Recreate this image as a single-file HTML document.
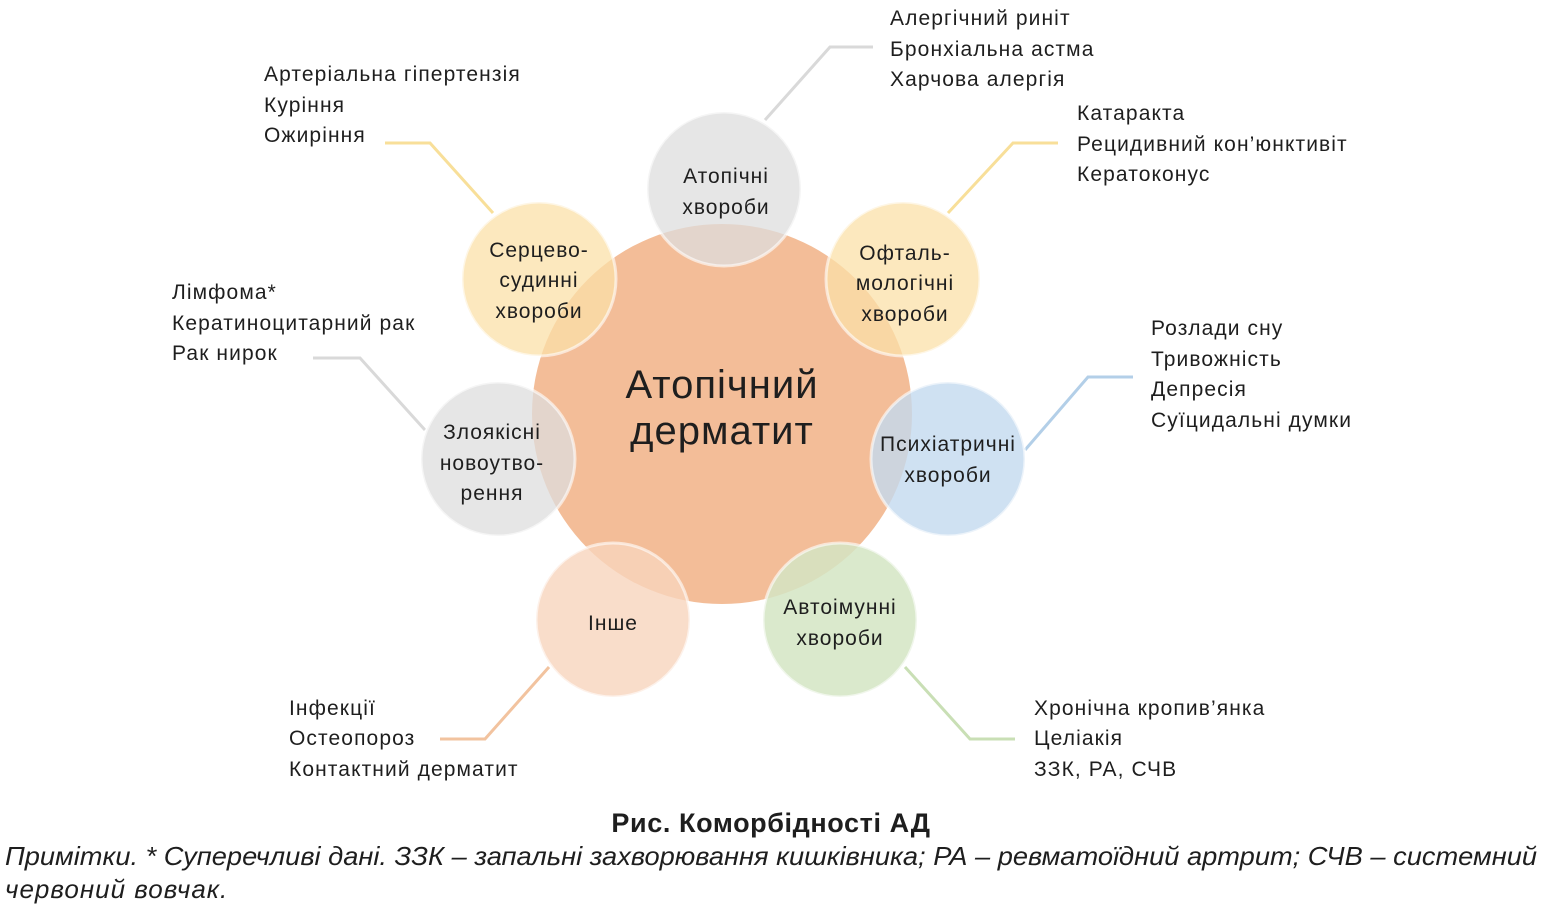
<!DOCTYPE html>
<html><head><meta charset="utf-8"><style>
html,body{margin:0;padding:0;background:#fff;width:1543px;height:910px;overflow:hidden}
svg{display:block}
text{font-family:"Liberation Sans","DejaVu Sans",sans-serif;fill:#1e1e1e}
.l{font-size:21px;letter-spacing:1.1px}
.c{font-size:21px;letter-spacing:1px;text-anchor:middle}
</style></head><body>
<svg width="1543" height="910" viewBox="0 0 1543 910">
<g fill="none" stroke-width="3">
<polyline points="765,120 830,47 873,47" stroke="#d9d9d9"/>
<polyline points="493,213 430,143 385,143" stroke="#f8df99"/>
<polyline points="948,213 1013,143 1058,143" stroke="#f8df99"/>
<polyline points="425,430 360,358 313,358" stroke="#d9d9d9"/>
<polyline points="1025,450 1088,377 1133,377" stroke="#b3cfe8"/>
<polyline points="549,667 485,739 440,739" stroke="#f2c39f"/>
<polyline points="905,667 970,739 1015,739" stroke="#c9dfb5"/>
</g>
<circle cx="722" cy="414" r="190" fill="#f3bd98"/>
<g stroke="#fff" stroke-opacity="0.6" stroke-width="3">
<ellipse cx="724" cy="189" rx="77" ry="77" fill="#dedede" fill-opacity="0.75"/>
<ellipse cx="539" cy="279" rx="77" ry="77" fill="#fbe0a8" fill-opacity="0.75"/>
<ellipse cx="903" cy="279" rx="77" ry="77" fill="#fbe0a8" fill-opacity="0.75"/>
<ellipse cx="498" cy="459" rx="77" ry="77" fill="#dedede" fill-opacity="0.75"/>
<ellipse cx="948" cy="459" rx="77" ry="77" fill="#c3d9ef" fill-opacity="0.8"/>
<ellipse cx="613" cy="620" rx="77" ry="77" fill="#f8d4bd" fill-opacity="0.8"/>
<ellipse cx="840" cy="620" rx="77" ry="77" fill="#d3e5c3" fill-opacity="0.85"/>
</g>
<text x="722" y="398" style="font-size:40px;letter-spacing:1px;text-anchor:middle">Атопічний</text>
<text x="722" y="444" style="font-size:40px;letter-spacing:1px;text-anchor:middle">дерматит</text>
<text class="c" x="726" y="183">Атопічні</text><text class="c" x="726" y="214">хвороби</text>
<text class="c" x="539" y="257">Серцево-</text><text class="c" x="539" y="287">судинні</text><text class="c" x="539" y="318">хвороби</text>
<text class="c" x="905" y="260">Офталь-</text><text class="c" x="905" y="290">мологічні</text><text class="c" x="905" y="321">хвороби</text>
<text class="c" x="492" y="439">Злоякісні</text><text class="c" x="492" y="470">новоутво-</text><text class="c" x="492" y="500">рення</text>
<text class="c" x="948" y="451">Психіатричні</text><text class="c" x="948" y="482">хвороби</text>
<text class="c" x="613" y="630">Інше</text>
<text class="c" x="840" y="614">Автоімунні</text><text class="c" x="840" y="645">хвороби</text>
<text class="l" x="890" y="25">Алергічний риніт</text><text class="l" x="890" y="56">Бронхіальна астма</text><text class="l" x="890" y="86">Харчова алергія</text>
<text class="l" x="264" y="81">Артеріальна гіпертензія</text><text class="l" x="264" y="112">Куріння</text><text class="l" x="264" y="142">Ожиріння</text>
<text class="l" x="1077" y="120">Катаракта</text><text class="l" x="1077" y="151">Рецидивний кон’юнктивіт</text><text class="l" x="1077" y="181">Кератоконус</text>
<text class="l" x="172" y="299">Лімфома*</text><text class="l" x="172" y="330">Кератиноцитарний рак</text><text class="l" x="172" y="360">Рак нирок</text>
<text class="l" x="1151" y="335">Розлади сну</text><text class="l" x="1151" y="366">Тривожність</text><text class="l" x="1151" y="396">Депресія</text><text class="l" x="1151" y="427">Суїцидальні думки</text>
<text class="l" x="289" y="715">Інфекції</text><text class="l" x="289" y="745">Остеопороз</text><text class="l" x="289" y="776">Контактний дерматит</text>
<text class="l" x="1034" y="715">Хронічна кропив’янка</text><text class="l" x="1034" y="745">Целіакія</text><text class="l" x="1034" y="776">ЗЗК, РА, СЧВ</text>
<text x="771" y="832" style="font-size:27px;letter-spacing:0.6px;font-weight:bold;text-anchor:middle">Рис. Коморбідності АД</text>
<text x="5" y="865" style="font-size:26px;font-style:italic" textLength="1532" lengthAdjust="spacingAndGlyphs">Примітки. * Суперечливі дані. ЗЗК – запальні захворювання кишківника; РА – ревматоїдний артрит; СЧВ – системний</text>
<text x="5" y="898" style="font-size:26px;letter-spacing:1px;font-style:italic">червоний вовчак.</text>
</svg>
</body></html>
